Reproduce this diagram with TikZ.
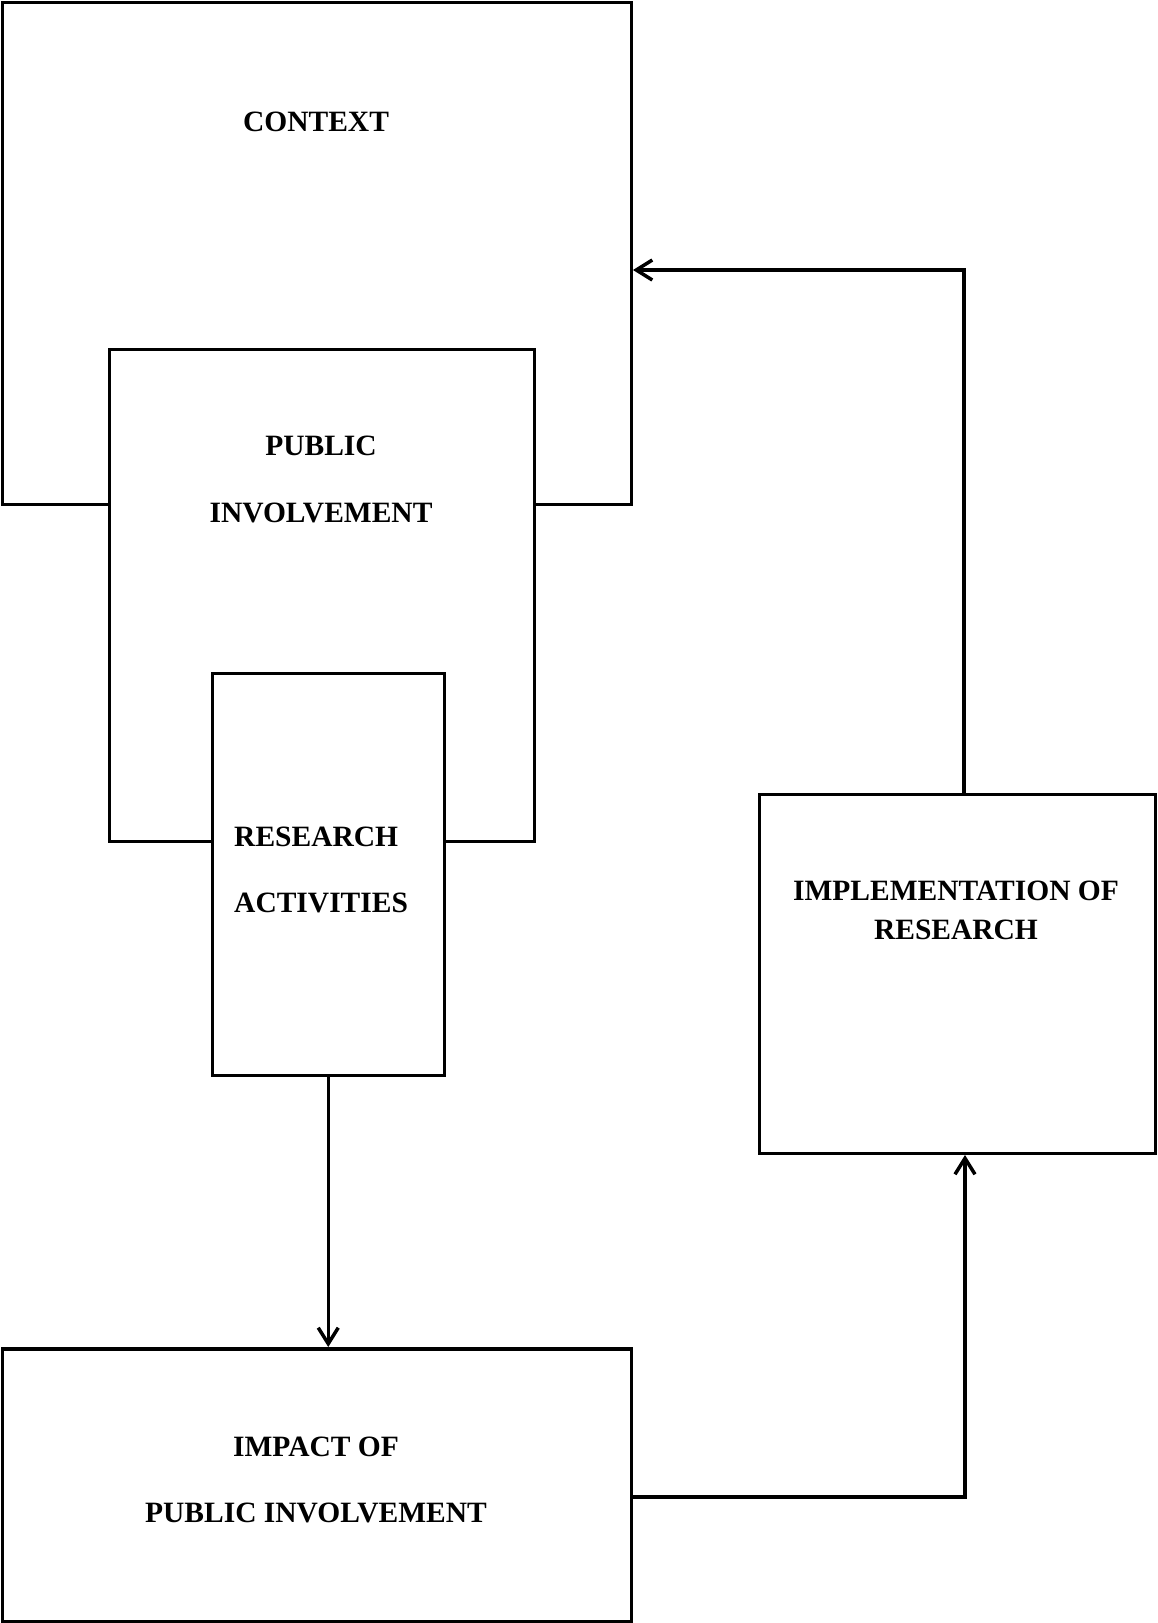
\documentclass[tikz,border=0pt]{standalone}
\usepackage{fontspec}
\setmainfont{Liberation Serif}
\usetikzlibrary{arrows.meta,calc}
\begin{document}
\begin{tikzpicture}[x=1pt,y=-1pt,
 box/.style={draw,line width=3.5pt,fill=white,inner sep=0pt,anchor=north west},
 lbl/.style={font=\fontsize{29.5}{34}\selectfont\bfseries,inner sep=0pt},
 conn/.style={line width=3.5pt,-{Straight Barb[length=16pt,width=20pt]}}]
\useasboundingbox (0,0) rectangle (1157,1623);
\node[box,minimum width=629pt,minimum height=502pt] (context) at (0.5,0.5) {};
\node[box,minimum width=425pt,minimum height=492pt] (public) at (107.5,347.5) {};
\node[box,minimum width=232pt,minimum height=402pt] (research) at (210.5,671.5) {};
\node[box,minimum width=396pt,minimum height=359pt] (impl) at (757.5,792.5) {};
\node[box,minimum width=629pt,minimum height=273pt] (impact) at (0.5,1347) {};
\node[lbl] (tcontext) at (316,122) {CONTEXT};
\node[lbl] (tpub1) at (321,446) {PUBLIC};
\node[lbl] (tpub2) at (321,513) {INVOLVEMENT};
\node[lbl,anchor=west] (tres1) at (234,837) {RESEARCH};
\node[lbl,anchor=west] (tres2) at (234,903) {ACTIVITIES};
\node[lbl] (timp1) at (956,891) {IMPLEMENTATION OF};
\node[lbl] (timp2) at (956,930) {RESEARCH};
\node[lbl] (tipi1) at (316,1447) {IMPACT OF};
\node[lbl] (tipi2) at (316,1513) {PUBLIC INVOLVEMENT};
\coordinate (turnA) at (965,1497);
\coordinate (turnB) at (964,270);
\draw[conn] (research.south) -- (research.south |- impact.north);
\draw[conn] (impact.east |- turnA) -- (turnA) -- (turnA |- impl.south);
\draw[conn] (impl.north -| turnB) -- (turnB) -- (turnB -| context.east);
\end{tikzpicture}
\end{document}
